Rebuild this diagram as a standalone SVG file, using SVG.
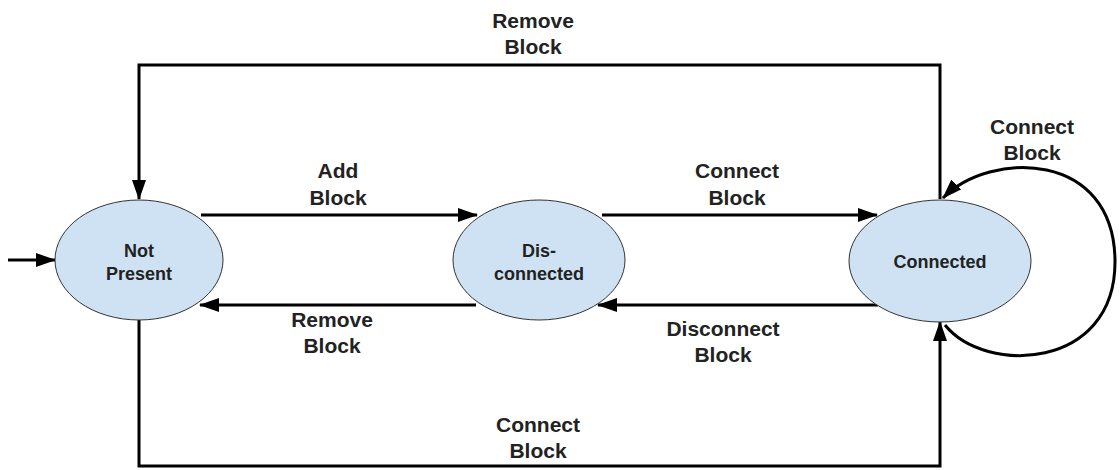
<svg xmlns="http://www.w3.org/2000/svg" width="1120" height="470" viewBox="0 0 1120 470">
  <style>
    .state { fill: #cfe2f3; stroke: #333333; stroke-width: 1; }
    .state-label { font-family: "Liberation Sans", Arial, sans-serif; font-size: 18px; font-weight: bold; fill: #222222; text-anchor: middle; }
    .edge { fill: none; stroke: #000000; stroke-width: 3; }
    .edge-label { font-family: "Liberation Sans", Arial, sans-serif; font-size: 21px; font-weight: bold; fill: #222222; text-anchor: middle; }
  </style>
  <defs>
    <marker id="arrow" viewBox="0 0 20 14" refX="19" refY="7" markerWidth="20" markerHeight="14" markerUnits="userSpaceOnUse" orient="auto">
      <path d="M0,0 L20,7 L0,14 z" fill="#000000"/>
    </marker>
  </defs>

  <rect width="1120" height="470" fill="#ffffff"/>

  <!-- transitions -->
  <g id="connectors">
    <!-- initial state -->
    <line class="edge" x1="8" y1="260" x2="55" y2="260" marker-end="url(#arrow)"/>
    <!-- Connected -> Not Present across the top -->
    <path class="edge" d="M940,199 L940,65 L139,65 L139,199" marker-end="url(#arrow)"/>
    <!-- Not Present -> Connected along the bottom -->
    <path class="edge" d="M139,320 L139,466 L940,466 L940,322" marker-end="url(#arrow)"/>
    <!-- Not Present -> Dis-connected -->
    <line class="edge" x1="201" y1="215" x2="477" y2="215" marker-end="url(#arrow)"/>
    <!-- Dis-connected -> Not Present -->
    <line class="edge" x1="476" y1="305" x2="200" y2="305" marker-end="url(#arrow)"/>
    <!-- Dis-connected -> Connected -->
    <line class="edge" x1="602" y1="215" x2="877" y2="215" marker-end="url(#arrow)"/>
    <!-- Connected -> Dis-connected -->
    <line class="edge" x1="878" y1="305" x2="598" y2="305" marker-end="url(#arrow)"/>
    <!-- Connected self loop -->
    <path class="edge" d="M945,325 C985,375 1115,370 1115,262 C1115,150 990,150 943,198" marker-end="url(#arrow)"/>
  </g>

  <!-- transition labels -->
  <g id="labels">
    <text class="edge-label" x="533" y="28">Remove</text>
    <text class="edge-label" x="533" y="54">Block</text>
    <text class="edge-label" x="338" y="178">Add</text>
    <text class="edge-label" x="338" y="205">Block</text>
    <text class="edge-label" x="737" y="178">Connect</text>
    <text class="edge-label" x="737" y="205">Block</text>
    <text class="edge-label" x="332" y="327">Remove</text>
    <text class="edge-label" x="332" y="353">Block</text>
    <text class="edge-label" x="723" y="336">Disconnect</text>
    <text class="edge-label" x="723" y="362">Block</text>
    <text class="edge-label" x="1032" y="134">Connect</text>
    <text class="edge-label" x="1032" y="160">Block</text>
    <text class="edge-label" x="538" y="432">Connect</text>
    <text class="edge-label" x="538" y="458">Block</text>
  </g>

  <!-- states -->
  <g id="not-present">
    <ellipse class="state" cx="139" cy="260" rx="84" ry="60"/>
    <text class="state-label" x="139" y="257">Not</text>
    <text class="state-label" x="139" y="280">Present</text>
  </g>
  <g id="disconnected">
    <ellipse class="state" cx="539" cy="260" rx="86" ry="60"/>
    <text class="state-label" x="539" y="257">Dis-</text>
    <text class="state-label" x="539" y="280">connected</text>
  </g>
  <g id="connected">
    <ellipse class="state" cx="940" cy="261" rx="91" ry="61"/>
    <text class="state-label" x="940" y="268">Connected</text>
  </g>
</svg>
